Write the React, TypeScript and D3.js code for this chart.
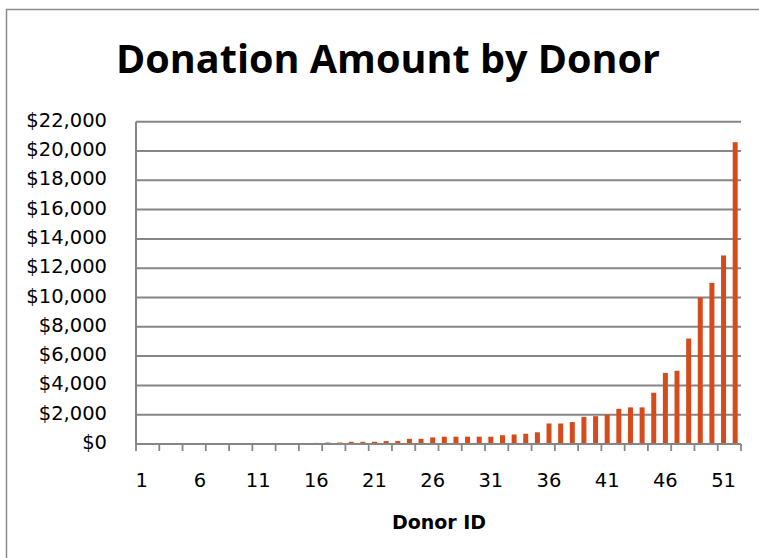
import { useEffect, useRef } from "react";
import * as d3 from "d3";

// Donor IDs 1..52 and donation amounts
const donorIds: number[] = d3.range(1, 53);
const amounts: number[] = [
  5, 10, 15, 20, 25, 30, 40, 50, 50, 50,
  50, 50, 50, 60, 60, 75, 100, 100, 150, 150,
  150, 200, 200, 350, 350, 450, 500, 500, 500, 500,
  500, 600, 650, 700, 800, 1400, 1400, 1500, 1850, 1900,
  2000, 2400, 2500, 2500, 3500, 4850, 5000, 7200, 10000, 11000,
  12870, 20600,
];
const yTicks: number[] = d3.range(0, 22001, 2000);
const xLabelIds: number[] = [1, 6, 11, 16, 21, 26, 31, 36, 41, 46, 51];

const W = 759;
const H = 558;
const PLOT = { left: 136, right: 741, top: 121.7, bottom: 444 };
const BAR_COLOR = "#D64B1B";
const GRID_COLOR = "#868686";
const AXIS_FONT = "'DejaVu Sans', sans-serif";

export default function App() {
  const svgRef = useRef<SVGSVGElement>(null);

  useEffect(() => {
    if (!svgRef.current) return;
    const svg = d3.select(svgRef.current);
    svg.selectAll("*").remove();

    svg.append("rect").attr("width", W).attr("height", H).attr("fill", "#fff");

    // chart border (only left/top visible in the frame)
    svg
      .append("rect")
      .attr("x", 6.5)
      .attr("y", 9.5)
      .attr("width", W + 20)
      .attr("height", H + 20)
      .attr("fill", "none")
      .attr("stroke", "#8a8a8a")
      .attr("stroke-width", 1.5);

    // title
    svg
      .append("text")
      .attr("x", 388)
      .attr("y", 73)
      .attr("text-anchor", "middle")
      .attr("font-family", "'Open Sans', sans-serif")
      .attr("font-weight", "bold")
      .attr("font-size", 39)
      .attr("textLength", 544)
      .attr("lengthAdjust", "spacingAndGlyphs")
      .attr("fill", "#000")
      .text("Donation Amount by Donor");

    const x = d3
      .scaleBand<number>()
      .domain(donorIds)
      .range([PLOT.left, PLOT.right])
      .paddingInner(0.57)
      .paddingOuter(0.285);

    const y = d3.scaleLinear().domain([0, 22000]).range([PLOT.bottom, PLOT.top]);

    // gridlines
    svg
      .append("g")
      .selectAll("line")
      .data(yTicks.filter((t) => t > 0))
      .join("line")
      .attr("x1", PLOT.left)
      .attr("x2", PLOT.right)
      .attr("y1", (d) => y(d))
      .attr("y2", (d) => y(d))
      .attr("stroke", GRID_COLOR)
      .attr("stroke-width", 2);

    // y labels
    const fmt = d3.format("$,.0f");
    svg
      .append("g")
      .selectAll("text")
      .data(yTicks)
      .join("text")
      .attr("x", 107)
      .attr("y", (d) => y(d) + 5)
      .attr("text-anchor", "end")
      .attr("font-family", AXIS_FONT)
      .attr("font-size", 19.5)
      .attr("fill", "#000")
      .text((d) => fmt(d));

    // bars
    svg
      .append("g")
      .selectAll("rect")
      .data(amounts)
      .join("rect")
      .attr("x", (_, i) => x(donorIds[i])!)
      .attr("width", x.bandwidth())
      .attr("y", (d) => y(d))
      .attr("height", (d) => PLOT.bottom - y(d))
      .attr("fill", BAR_COLOR);

    // y axis line
    svg
      .append("line")
      .attr("x1", PLOT.left)
      .attr("x2", PLOT.left)
      .attr("y1", PLOT.top)
      .attr("y2", PLOT.bottom)
      .attr("stroke", GRID_COLOR)
      .attr("stroke-width", 2);

    // x axis line + ticks every 2 categories
    svg
      .append("line")
      .attr("x1", PLOT.left)
      .attr("x2", PLOT.right)
      .attr("y1", PLOT.bottom)
      .attr("y2", PLOT.bottom)
      .attr("stroke", GRID_COLOR)
      .attr("stroke-width", 2);

    const step = x.step();
    const tickXs = d3.range(0, donorIds.length + 1, 2).map((i) => PLOT.left + i * step);
    svg
      .append("g")
      .selectAll("line")
      .data(tickXs)
      .join("line")
      .attr("x1", (d) => d)
      .attr("x2", (d) => d)
      .attr("y1", PLOT.bottom)
      .attr("y2", PLOT.bottom + 7)
      .attr("stroke", GRID_COLOR)
      .attr("stroke-width", 1.8);

    // x labels
    svg
      .append("g")
      .selectAll("text")
      .data(xLabelIds)
      .join("text")
      .attr("x", (d) => x(d)! + x.bandwidth() / 2)
      .attr("y", 487)
      .attr("text-anchor", "middle")
      .attr("font-family", AXIS_FONT)
      .attr("font-size", 19.5)
      .attr("fill", "#000")
      .text((d) => String(d));

    // x axis title
    svg
      .append("text")
      .attr("x", 439)
      .attr("y", 529)
      .attr("text-anchor", "middle")
      .attr("font-family", AXIS_FONT)
      .attr("font-weight", "bold")
      .attr("font-size", 19)
      .attr("fill", "#000")
      .text("Donor ID");
  }, []);

  return (
    <svg
      ref={svgRef}
      width={W}
      height={H}
      style={{ position: "absolute", left: 0, top: 0, display: "block" }}
    />
  );
}
